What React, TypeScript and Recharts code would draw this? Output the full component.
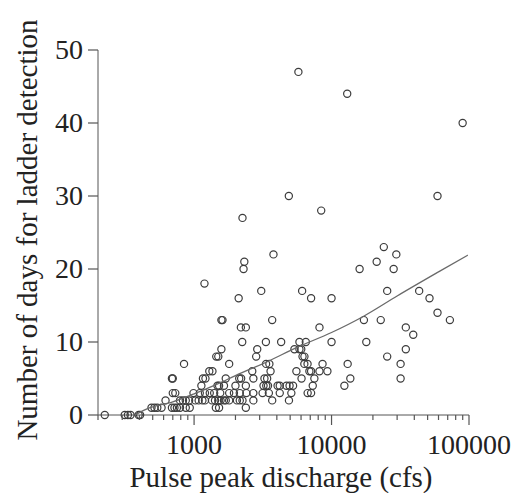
import { Scatter, ScatterChart, XAxis, YAxis } from "recharts";

// pulse peak discharge (cfs) / days to ladder detection
const discharge = [
  224, 313, 330, 345, 395, 405,
  490, 515, 540, 580, 690, 720, 750, 790, 870, 930, 1440, 1520, 2380,
  620, 790, 830, 870, 920, 1020, 1080, 1150, 1200, 1350, 1420, 1500, 1560, 1650, 1700, 1800, 2050, 2150, 2250, 2700, 3700, 4900,
  700, 730, 990, 1100, 1200, 1300, 1400, 1550, 1800, 1950, 2150, 2400, 2700, 3150, 3500, 4200, 5100, 6700, 7100,
  1130, 1480, 1520, 1650, 2000, 2380, 3200, 3350, 3450, 4050, 4200, 4700, 4950, 5250, 7300, 12400,
  690, 700, 1160, 1210, 1700, 2130, 2200, 2700, 3250, 3400, 6050, 7500, 13700, 31800,
  1290, 1360, 2650, 3600, 5550, 6900, 7100, 8170, 9330,
  845, 1800, 3340, 3530, 6340, 6690, 8600, 13100, 31800,
  1450, 1500, 2830, 6150, 6350, 25400,
  1580, 2880, 5370, 5840, 6020, 34700,
  2240, 3330, 4300, 5840, 6500, 10000, 17900,
  39300,
  2190, 2380, 8170, 34700,
  1580, 1610, 3700, 17200, 22800, 72600,
  59000,
  2110, 7100, 10000, 51600,
  3080, 6110, 25400, 43400,
  1190,
  2290, 16000, 28300,
  2320, 21300,
  3780, 29600,
  24000,
  2250,
  8410,
  4890, 59000,
  89900,
  13000,
  5740,
];

const days = [
  0, 0, 0, 0, 0, 0,
  1, 1, 1, 1, 1, 1, 1, 1, 1, 1, 1, 1, 1,
  2, 2, 2, 2, 2, 2, 2, 2, 2, 2, 2, 2, 2, 2, 2, 2, 2, 2, 2, 2, 2, 2,
  3, 3, 3, 3, 3, 3, 3, 3, 3, 3, 3, 3, 3, 3, 3, 3, 3, 3, 3,
  4, 4, 4, 4, 4, 4, 4, 4, 4, 4, 4, 4, 4, 4, 4, 4,
  5, 5, 5, 5, 5, 5, 5, 5, 5, 5, 5, 5, 5, 5,
  6, 6, 6, 6, 6, 6, 6, 6, 6,
  7, 7, 7, 7, 7, 7, 7, 7, 7,
  8, 8, 8, 8, 8, 8,
  9, 9, 9, 9, 9, 9,
  10, 10, 10, 10, 10, 10, 10,
  11,
  12, 12, 12, 12,
  13, 13, 13, 13, 13, 13,
  14,
  16, 16, 16, 16,
  17, 17, 17, 17,
  18,
  20, 20, 20,
  21, 21,
  22, 22,
  23,
  27,
  28,
  30, 30,
  40,
  44,
  47,
];

// smoothed trend
const trendX = [370, 450, 700, 1000, 1500, 2000, 3500, 5500, 10000, 17000, 30000, 60000, 98000];
const trendY = [0, 0.8, 1.8, 2.9, 4.3, 5.4, 7.4, 9.2, 11.3, 13.5, 16.3, 19.6, 21.9];

const xTicks = [
  200, 300, 400, 500, 600, 700, 800, 900,
  1000, 2000, 3000, 4000, 5000, 6000, 7000, 8000, 9000,
  10000, 20000, 30000, 40000, 50000, 60000, 70000, 80000, 90000,
  100000,
];
const xLabels = [1000, 10000, 100000];
const yTicks = [0, 10, 20, 30, 40, 50];

const points = discharge.map((x, i) => ({ x, y: days[i] }));
const trend = trendX.map((x, i) => ({ x, y: trendY[i] }));

const FONT =
  "'Liberation Serif', Tinos, 'Times New Roman', Times, 'Noto Serif', 'DejaVu Serif', FreeSerif, serif";
const AXIS = "#555";
const TEXT = "#222";

const XTick = (props: any) => {
  const { x, y, payload } = props;
  const major = xLabels.includes(payload.value);
  return (
    <g>
      <line x1={x} x2={x} y1={y} y2={y + (major ? 10 : 5)} stroke={AXIS} strokeWidth={1.2} />
      {major && (
        <text x={x} y={y + 39} textAnchor="middle" fontSize={28} fill={TEXT} style={{ fontFamily: FONT }}>
          {payload.value}
        </text>
      )}
    </g>
  );
};

const YTick = (props: any) => {
  const { x, y, payload } = props;
  return (
    <g>
      <line x1={x - 10} x2={x} y1={y} y2={y} stroke={AXIS} strokeWidth={1.2} />
      <text x={x - 15} y={y + 9} textAnchor="end" fontSize={28} fill={TEXT} style={{ fontFamily: FONT }}>
        {payload.value}
      </text>
    </g>
  );
};

const Ring = (props: any) => (
  <circle cx={props.cx} cy={props.cy} r={3.6} fill="none" stroke="#3c3c3c" strokeWidth={1.2} />
);

export default function App() {
  return (
    <div style={{ position: "absolute", left: 0, top: 0, background: "#fff", fontFamily: FONT }}>
      <ScatterChart
        width={518}
        height={493}
        margin={{ top: 50, right: 49, bottom: 0, left: 0 }}
      >
        <XAxis
          dataKey="x"
          type="number"
          scale="log"
          domain={[200, 100000]}
          ticks={xTicks}
          interval={0}
          allowDataOverflow
          height={78}
          stroke={AXIS}
          tickLine={false}
          tickSize={0}
          tickMargin={0}
          tick={<XTick />}
          label={{
            content: () => (
              <text x={281} y={487} textAnchor="middle" fontSize={29} fill={TEXT} style={{ fontFamily: FONT }}>
                Pulse peak discharge (cfs)
              </text>
            ),
          }}
        />
        <YAxis
          dataKey="y"
          type="number"
          domain={[0, 50]}
          ticks={yTicks}
          interval={0}
          width={98}
          stroke={AXIS}
          tickLine={false}
          tickSize={0}
          tickMargin={0}
          tick={<YTick />}
          label={{
            content: () => (
              <text
                x={37}
                y={230}
                transform="rotate(-90 37 230)"
                textAnchor="middle"
                fontSize={29}
                fill={TEXT}
                style={{ fontFamily: FONT }}
              >
                Number of days for ladder detection
              </text>
            ),
          }}
        />
        <Scatter data={points} shape={<Ring />} isAnimationActive={false} />
        <Scatter
          data={trend}
          line={{ stroke: "#6a6a6a", strokeWidth: 1.3 }}
          lineJointType="monotoneX"
          shape={() => <g />}
          isAnimationActive={false}
        />
      </ScatterChart>
    </div>
  );
}
